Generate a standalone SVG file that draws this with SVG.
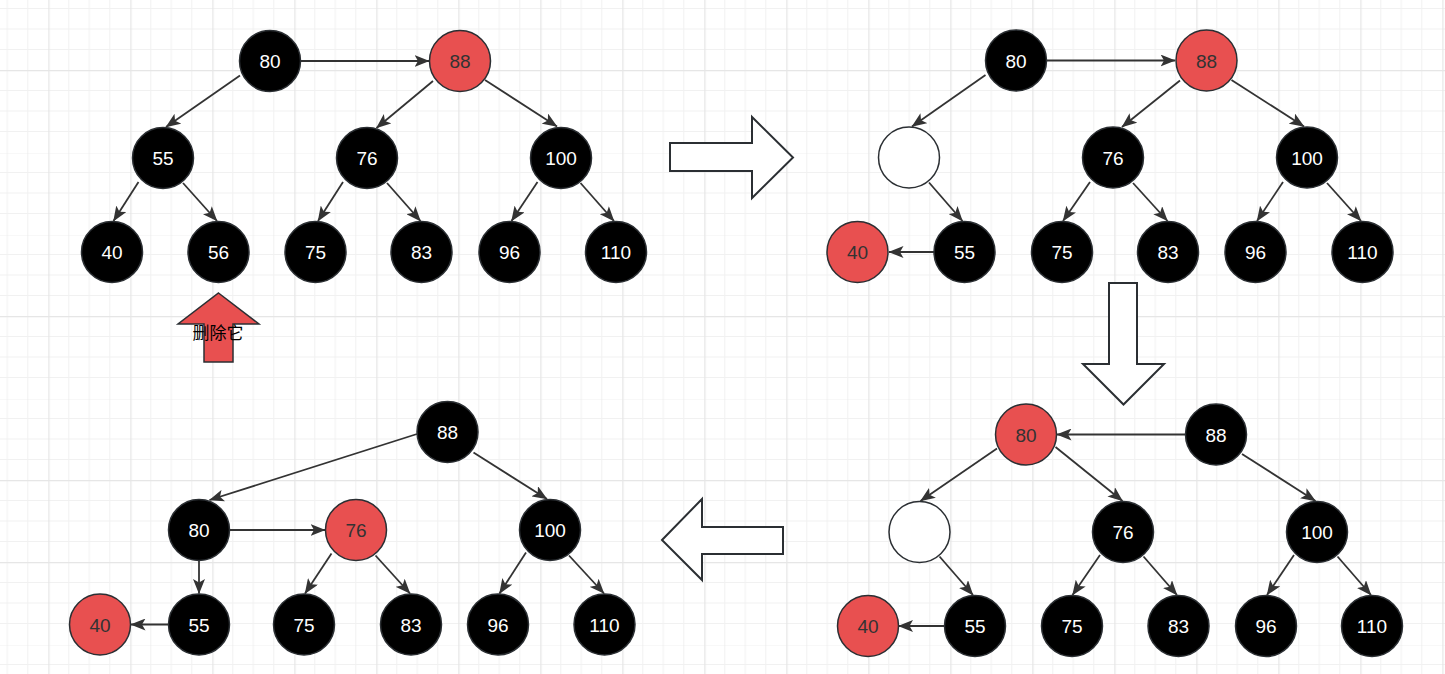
<svg xmlns="http://www.w3.org/2000/svg" width="1445" height="674" viewBox="0 0 1445 674">
<defs>
<pattern id="grid" patternUnits="userSpaceOnUse" x="48.3" y="70" width="82" height="82">
<rect width="82" height="82" fill="#ffffff"/>
<path d="M20.5 0V82M41 0V82M61.5 0V82M0 20.5H82M0 41H82M0 61.5H82" stroke="#f1f1f1" stroke-width="1" fill="none"/>
<path d="M0.5 0V82M0 0.5H82" stroke="#e6e6e6" stroke-width="1.5" fill="none"/>
</pattern>
<marker id="arr" markerUnits="userSpaceOnUse" markerWidth="15" markerHeight="12" viewBox="0 0 15 12" refX="14.5" refY="6" orient="auto">
<path d="M0,0 L15,6 L0,12 L3.5,6 z" fill="#333333"/>
</marker>
<style>
.b ellipse{fill:#000000;stroke:#2b2f33;stroke-width:1.5}
.r ellipse{fill:#e85050;stroke:#2b2f33;stroke-width:1.5}
.w ellipse{fill:#ffffff;stroke:#2b2f33;stroke-width:1.5}
.b text{fill:#ffffff}
.r text{fill:#333333}
text{font-family:"Liberation Sans",Arial,sans-serif;font-size:19px;text-anchor:middle}
.edges line{stroke:#333333;stroke-width:1.8;marker-end:url(#arr)}
.big{fill:#ffffff;stroke:#2b2f33;stroke-width:2;stroke-linejoin:miter}
</style>
</defs>
<rect width="1445" height="674" fill="url(#grid)"/>

<!-- big block arrows -->
<polygon class="big" points="670,143 752,143 752,117 793,157.5 752,198 752,171 670,171"/>
<polygon class="big" points="1109,283 1137,283 1137,364 1164,364 1123.5,404.5 1083,364 1109,364"/>
<polygon class="big" points="662,540 702,499 702,527 783,527 783,554 702,554 702,580"/>
<g id="delete-arrow">
<polygon points="218.5,293 259,324 233,324 233,362 204,362 204,324 178,324" fill="#e85050" stroke="#2b2f33" stroke-width="1.5"/>
<text x="218" y="339" style="font-family:'Noto Sans CJK SC','Noto Sans',sans-serif;font-size:17px;fill:#000000">删除它</text>
</g>

<g class="edges" id="connectors">
<!-- tree 1 -->
<line x1="301" y1="61" x2="429" y2="61"/>
<line x1="240" y1="75.5" x2="166" y2="127"/>
<line x1="433" y1="81" x2="376.5" y2="128"/>
<line x1="485" y1="80" x2="557" y2="126.5"/>
<line x1="138.5" y1="182" x2="113.5" y2="221"/>
<line x1="183" y1="183" x2="217" y2="221"/>
<line x1="343" y1="182" x2="318" y2="221"/>
<line x1="387" y1="183" x2="420.5" y2="221"/>
<line x1="537.5" y1="182" x2="511.5" y2="221"/>
<line x1="580.5" y1="183" x2="614" y2="221"/>
<!-- tree 2 -->
<line x1="1046.5" y1="60.5" x2="1175" y2="60.5"/>
<line x1="985.5" y1="75" x2="912" y2="126.5"/>
<line x1="1180" y1="80.5" x2="1122" y2="127"/>
<line x1="1231.5" y1="80" x2="1304" y2="126.5"/>
<line x1="929" y1="182.5" x2="962.5" y2="221"/>
<line x1="934" y1="252" x2="889" y2="252"/>
<line x1="1090" y1="182" x2="1063" y2="221"/>
<line x1="1133" y1="183" x2="1167.5" y2="221"/>
<line x1="1283" y1="182" x2="1257" y2="221"/>
<line x1="1327" y1="183" x2="1361" y2="221"/>
<!-- tree 3 -->
<line x1="1185.5" y1="434.5" x2="1057" y2="434.5"/>
<line x1="997" y1="448.5" x2="920.5" y2="501"/>
<line x1="1055.5" y1="447" x2="1122.5" y2="501"/>
<line x1="1242" y1="454" x2="1315.5" y2="501"/>
<line x1="939.5" y1="556.5" x2="973" y2="595"/>
<line x1="944.5" y1="626" x2="898.5" y2="626"/>
<line x1="1100" y1="555" x2="1072.5" y2="595"/>
<line x1="1143.5" y1="556.5" x2="1177" y2="595"/>
<line x1="1294" y1="555" x2="1267" y2="595"/>
<line x1="1337.5" y1="556.5" x2="1371" y2="595"/>
<!-- tree 4 -->
<line x1="417" y1="434" x2="209.5" y2="500"/>
<line x1="473.5" y1="452.5" x2="547" y2="499"/>
<line x1="229.5" y1="530" x2="325" y2="530"/>
<line x1="199" y1="561" x2="199" y2="593.5"/>
<line x1="168.5" y1="624.5" x2="131" y2="624.5"/>
<line x1="331.5" y1="553.5" x2="305" y2="593.5"/>
<line x1="375.5" y1="555.5" x2="410" y2="593.5"/>
<line x1="526" y1="552.5" x2="499.5" y2="593.5"/>
<line x1="569" y1="555.5" x2="604" y2="593.5"/>
</g>

<!-- tree 1 -->
<g id="t1-80" class="b"><ellipse cx="270" cy="61" rx="30.5" ry="30.5"/><text x="270" y="68">80</text></g>
<g id="t1-88" class="r"><ellipse cx="460" cy="61" rx="30.5" ry="30.5"/><text x="460" y="68">88</text></g>
<g id="t1-55" class="b"><ellipse cx="163" cy="158" rx="30.5" ry="30.5"/><text x="163" y="165">55</text></g>
<g id="t1-76" class="b"><ellipse cx="367" cy="158" rx="30.5" ry="30.5"/><text x="367" y="165">76</text></g>
<g id="t1-100" class="b"><ellipse cx="561" cy="158" rx="30.5" ry="30.5"/><text x="561" y="165">100</text></g>
<g id="t1-40" class="b"><ellipse cx="112" cy="252" rx="30.5" ry="30.5"/><text x="112" y="259">40</text></g>
<g id="t1-56" class="b"><ellipse cx="218.5" cy="252" rx="30.5" ry="30.5"/><text x="218.5" y="259">56</text></g>
<g id="t1-75" class="b"><ellipse cx="315.5" cy="252" rx="30.5" ry="30.5"/><text x="315.5" y="259">75</text></g>
<g id="t1-83" class="b"><ellipse cx="421.5" cy="252" rx="30.5" ry="30.5"/><text x="421.5" y="259">83</text></g>
<g id="t1-96" class="b"><ellipse cx="509.5" cy="252" rx="30.5" ry="30.5"/><text x="509.5" y="259">96</text></g>
<g id="t1-110" class="b"><ellipse cx="616" cy="252" rx="30.5" ry="30.5"/><text x="616" y="259">110</text></g>

<!-- tree 2 -->
<g id="t2-80" class="b"><ellipse cx="1016" cy="60.5" rx="30.5" ry="30.5"/><text x="1016" y="67.5">80</text></g>
<g id="t2-88" class="r"><ellipse cx="1206.5" cy="60.5" rx="30.5" ry="30.5"/><text x="1206.5" y="67.5">88</text></g>
<g id="t2-empty" class="w"><ellipse cx="909" cy="157.5" rx="30.5" ry="30.5"/></g>
<g id="t2-76" class="b"><ellipse cx="1113" cy="157.5" rx="30.5" ry="30.5"/><text x="1113" y="164.5">76</text></g>
<g id="t2-100" class="b"><ellipse cx="1307" cy="157.5" rx="30.5" ry="30.5"/><text x="1307" y="164.5">100</text></g>
<g id="t2-40" class="r"><ellipse cx="857.5" cy="252" rx="30.5" ry="30.5"/><text x="857.5" y="259">40</text></g>
<g id="t2-55" class="b"><ellipse cx="964.5" cy="252" rx="30.5" ry="30.5"/><text x="964.5" y="259">55</text></g>
<g id="t2-75" class="b"><ellipse cx="1062" cy="252" rx="30.5" ry="30.5"/><text x="1062" y="259">75</text></g>
<g id="t2-83" class="b"><ellipse cx="1168" cy="252" rx="30.5" ry="30.5"/><text x="1168" y="259">83</text></g>
<g id="t2-96" class="b"><ellipse cx="1255.5" cy="252" rx="30.5" ry="30.5"/><text x="1255.5" y="259">96</text></g>
<g id="t2-110" class="b"><ellipse cx="1362.5" cy="252" rx="30.5" ry="30.5"/><text x="1362.5" y="259">110</text></g>

<!-- tree 3 -->
<g id="t3-80" class="r"><ellipse cx="1026" cy="434.5" rx="30.5" ry="30.5"/><text x="1026" y="441.5">80</text></g>
<g id="t3-88" class="b"><ellipse cx="1216" cy="434.5" rx="30.5" ry="30.5"/><text x="1216" y="441.5">88</text></g>
<g id="t3-empty" class="w"><ellipse cx="919.5" cy="532" rx="30.5" ry="30.5"/></g>
<g id="t3-76" class="b"><ellipse cx="1123" cy="532" rx="30.5" ry="30.5"/><text x="1123" y="539">76</text></g>
<g id="t3-100" class="b"><ellipse cx="1317" cy="532" rx="30.5" ry="30.5"/><text x="1317" y="539">100</text></g>
<g id="t3-40" class="r"><ellipse cx="868" cy="626" rx="30.5" ry="30.5"/><text x="868" y="633">40</text></g>
<g id="t3-55" class="b"><ellipse cx="975" cy="626" rx="30.5" ry="30.5"/><text x="975" y="633">55</text></g>
<g id="t3-75" class="b"><ellipse cx="1072" cy="626" rx="30.5" ry="30.5"/><text x="1072" y="633">75</text></g>
<g id="t3-83" class="b"><ellipse cx="1178.5" cy="626" rx="30.5" ry="30.5"/><text x="1178.5" y="633">83</text></g>
<g id="t3-96" class="b"><ellipse cx="1266" cy="626" rx="30.5" ry="30.5"/><text x="1266" y="633">96</text></g>
<g id="t3-110" class="b"><ellipse cx="1372" cy="626" rx="30.5" ry="30.5"/><text x="1372" y="633">110</text></g>

<!-- tree 4 -->
<g id="t4-88" class="b"><ellipse cx="447.5" cy="432" rx="30.5" ry="30.5"/><text x="447.5" y="439">88</text></g>
<g id="t4-80" class="b"><ellipse cx="199" cy="530" rx="30.5" ry="30.5"/><text x="199" y="537">80</text></g>
<g id="t4-76" class="r"><ellipse cx="356" cy="530" rx="30.5" ry="30.5"/><text x="356" y="537">76</text></g>
<g id="t4-100" class="b"><ellipse cx="550" cy="530" rx="30.5" ry="30.5"/><text x="550" y="537">100</text></g>
<g id="t4-40" class="r"><ellipse cx="100" cy="624.5" rx="30.5" ry="30.5"/><text x="100" y="631.5">40</text></g>
<g id="t4-55" class="b"><ellipse cx="199" cy="624.5" rx="30.5" ry="30.5"/><text x="199" y="631.5">55</text></g>
<g id="t4-75" class="b"><ellipse cx="304" cy="624.5" rx="30.5" ry="30.5"/><text x="304" y="631.5">75</text></g>
<g id="t4-83" class="b"><ellipse cx="411" cy="624.5" rx="30.5" ry="30.5"/><text x="411" y="631.5">83</text></g>
<g id="t4-96" class="b"><ellipse cx="498" cy="624.5" rx="30.5" ry="30.5"/><text x="498" y="631.5">96</text></g>
<g id="t4-110" class="b"><ellipse cx="604.5" cy="624.5" rx="30.5" ry="30.5"/><text x="604.5" y="631.5">110</text></g>
</svg>
